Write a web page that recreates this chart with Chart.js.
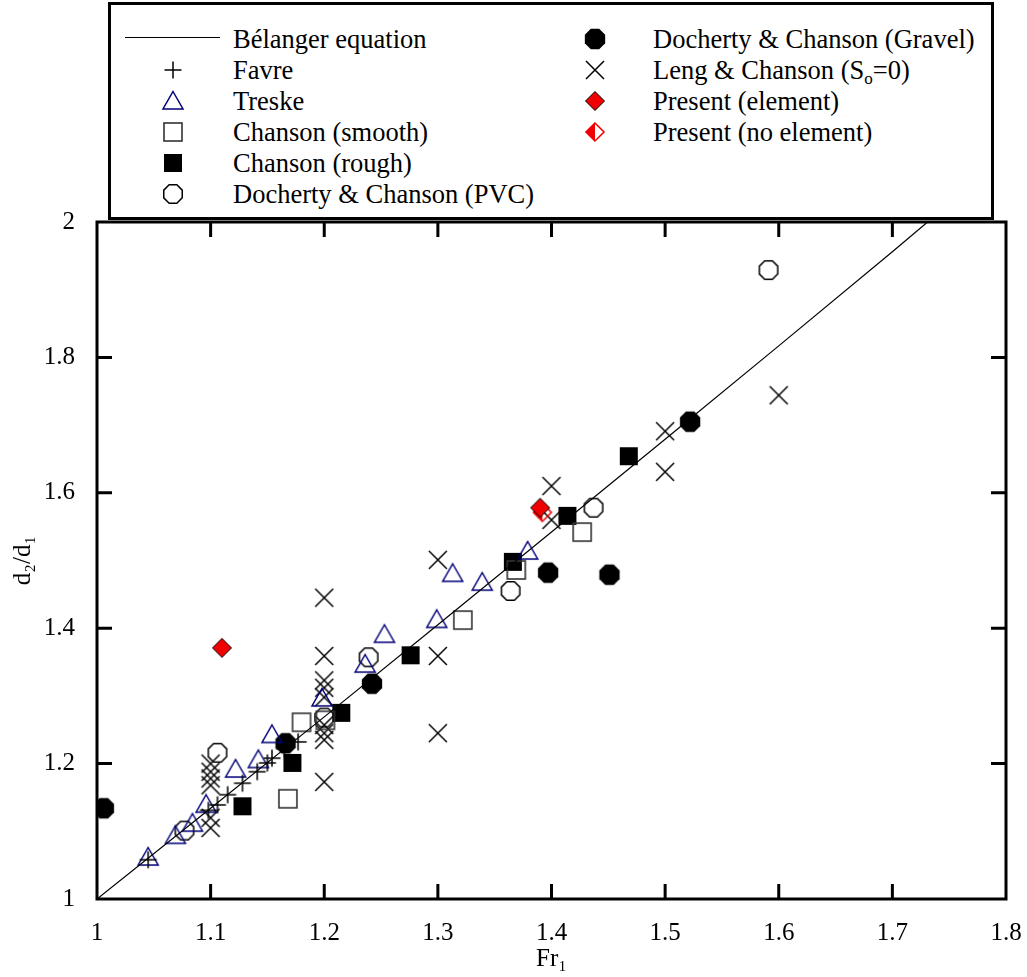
<!DOCTYPE html>
<html>
<head>
<meta charset="utf-8">
<script src="https://cdn.jsdelivr.net/npm/chart.js@4.4.1/dist/chart.umd.min.js"></script>
<style>
  body { margin:0; background:#fff; }
  #wrap { position:relative; width:1027px; height:977px; }
  #legend {
    position:absolute; left:108px; top:2px; width:886px; height:218px;
    box-sizing:border-box; border:3px solid #000; background:#fff;
    font-family:"Liberation Serif", "Times New Roman", serif; font-size:26.5px; color:#000;
  }
  #legend .txt { position:absolute; line-height:30px; white-space:nowrap; }
  #legend canvas { position:absolute; }
  #legend .ln { position:absolute; height:0; border-top:1px solid #000; }
  sub { font-size:17px; vertical-align:-5px; line-height:0; }
</style>
</head>
<body>
<div id="wrap">
  <canvas id="chart" width="1027" height="977"></canvas>
  <div id="legend"></div>
</div>
<script>
// Bélanger equation
const belangerFr = [1.0, 1.1, 1.2, 1.3, 1.4, 1.5, 1.6, 1.7, 1.731];
const belangerD  = [1.0, 1.134, 1.269, 1.405, 1.542, 1.679, 1.817, 1.956, 2.0];

const favreFr = [1.045, 1.098, 1.106, 1.115, 1.128, 1.141, 1.150, 1.154, 1.165, 1.177];
const favreD  = [1.058, 1.131, 1.139, 1.154, 1.171, 1.188, 1.201, 1.208, 1.222, 1.232];

const treskeFr = [1.045, 1.069, 1.084, 1.096, 1.122, 1.142, 1.154, 1.198, 1.236, 1.253, 1.299, 1.313, 1.339, 1.379];
const treskeD  = [1.062, 1.094, 1.112, 1.140, 1.192, 1.206, 1.243, 1.297, 1.347, 1.391, 1.413, 1.481, 1.468, 1.514];

const smoothFr = [1.168, 1.180, 1.201, 1.322, 1.369, 1.427];
const smoothD  = [1.148, 1.261, 1.264, 1.412, 1.486, 1.542];

const roughFr = [1.128, 1.172, 1.215, 1.276, 1.366, 1.414, 1.468];
const roughD  = [1.137, 1.201, 1.275, 1.360, 1.498, 1.566, 1.654];

const pvcFr = [1.077, 1.106, 1.200, 1.239, 1.364, 1.437, 1.591];
const pvcD  = [1.101, 1.216, 1.268, 1.357, 1.455, 1.578, 1.929];

const gravelFr = [1.006, 1.166, 1.242, 1.397, 1.451, 1.522];
const gravelD  = [1.134, 1.230, 1.318, 1.482, 1.479, 1.705];

const lengFr = [1.1, 1.1, 1.1, 1.1, 1.1, 1.1,
                1.2, 1.2, 1.2, 1.2, 1.2, 1.2, 1.2, 1.2, 1.2,
                1.3, 1.3, 1.3, 1.4, 1.4, 1.5, 1.5, 1.6];
const lengD  = [1.200, 1.188, 1.178, 1.168, 1.120, 1.105,
                1.445, 1.359, 1.323, 1.312, 1.298, 1.257, 1.245, 1.235, 1.173,
                1.501, 1.359, 1.245, 1.610, 1.560, 1.691, 1.631, 1.744];

const elemFr = [1.110, 1.390];
const elemD  = [1.371, 1.578];

const noElemFr = [1.392];
const noElemD  = [1.571];

const xTicks = [1, 1.1, 1.2, 1.3, 1.4, 1.5, 1.6, 1.7, 1.8];
const xTickLabels = ['1', '1.1', '1.2', '1.3', '1.4', '1.5', '1.6', '1.7', '1.8'];
const yTicks = [1, 1.2, 1.4, 1.6, 1.8, 2];
const yTickLabels = ['1', '1.2', '1.4', '1.6', '1.8', '2'];

const FONT = '"Liberation Serif", "Times New Roman", serif';
const NAVY = '#00007a';
const RED = '#f00000';

// marker images
function marker(kind){
  const S = 26, m = S/2;
  const c = document.createElement('canvas');
  c.width = S; c.height = S;
  const g = c.getContext('2d');
  g.lineWidth = 1.5;
  g.strokeStyle = '#000';
  g.fillStyle = '#000';
  const oct = r => {
    g.beginPath();
    for(let k=0;k<8;k++){
      const a = Math.PI/8 + k*Math.PI/4;
      g.lineTo(m + r*Math.cos(a), m + r*Math.sin(a));
    }
    g.closePath();
  };
  const dia = r => {
    g.beginPath();
    g.moveTo(m, m-r); g.lineTo(m+r, m); g.lineTo(m, m+r); g.lineTo(m-r, m); g.closePath();
  };
  if(kind==='plus'){
    g.beginPath(); g.moveTo(m-8.5, m); g.lineTo(m+8.5, m); g.moveTo(m, m-8.5); g.lineTo(m, m+8.5); g.stroke();
  } else if(kind==='x'){
    g.beginPath(); g.moveTo(m-9, m-9); g.lineTo(m+9, m+9); g.moveTo(m+9, m-9); g.lineTo(m-9, m+9); g.stroke();
  } else if(kind==='tri'){
    g.strokeStyle = NAVY;
    g.beginPath(); g.moveTo(m, m-9.5); g.lineTo(m+10, m+8); g.lineTo(m-10, m+8); g.closePath(); g.stroke();
  } else if(kind==='sqOpen'){
    g.strokeStyle = '#333'; g.lineWidth = 1.6;
    g.strokeRect(m-9, m-9, 18, 18);
  } else if(kind==='sqFill'){
    g.fillRect(m-9, m-9, 18, 18);
  } else if(kind==='octOpen'){
    oct(10); g.stroke();
  } else if(kind==='octFill'){
    oct(11); g.fill();
  } else if(kind==='dia'){
    dia(9.5); g.fillStyle = RED; g.fill(); g.lineWidth = 1; g.stroke();
  } else if(kind==='diaHalf'){
    g.fillStyle = RED;
    g.beginPath(); g.moveTo(m, m-9.5); g.lineTo(m-9.5, m); g.lineTo(m, m+9.5); g.closePath(); g.fill();
    dia(9); g.strokeStyle = RED; g.lineWidth = 1.5; g.stroke();
  }
  return c;
}

function pts(xs, ys){ return xs.map((x, i) => ({x, y: ys[i]})); }

function scatterSet(label, xs, ys, kind){
  return { label, data: pts(xs, ys), pointStyle: marker(kind), pointRadius: 10, clip: 0, showLine: false };
}

const datasets = [
  scatterSet('Present (element)', elemFr, elemD, 'dia'),
  scatterSet('Present (no element)', noElemFr, noElemD, 'diaHalf'),
  { label: 'Bélanger equation', data: pts(belangerFr, belangerD), showLine: true,
    borderColor: '#000', borderWidth: 1.2, pointRadius: 0, tension: 0, fill: false },
  scatterSet('Favre', favreFr, favreD, 'plus'),
  scatterSet('Treske', treskeFr, treskeD, 'tri'),
  scatterSet('Chanson (smooth)', smoothFr, smoothD, 'sqOpen'),
  scatterSet('Chanson (rough)', roughFr, roughD, 'sqFill'),
  scatterSet('Docherty & Chanson (PVC)', pvcFr, pvcD, 'octOpen'),
  scatterSet('Docherty & Chanson (Gravel)', gravelFr, gravelD, 'octFill'),
  scatterSet('Leng & Chanson (So=0)', lengFr, lengD, 'x')
];

// frame with inward ticks on all four sides
const framePlugin = {
  id: 'frame',
  afterDatasetsDraw(chart){
    const {ctx, chartArea: a, scales} = chart;
    ctx.save();
    ctx.strokeStyle = '#000';
    ctx.lineWidth = 3;
    ctx.strokeRect(a.left, a.top, a.right - a.left, a.bottom - a.top);
    const L = 15;
    ctx.beginPath();
    xTicks.slice(1, -1).forEach(v => {
      const px = scales.x.getPixelForValue(v);
      ctx.moveTo(px, a.bottom); ctx.lineTo(px, a.bottom - L);
      ctx.moveTo(px, a.top); ctx.lineTo(px, a.top + L);
    });
    yTicks.slice(1, -1).forEach(v => {
      const py = scales.y.getPixelForValue(v);
      ctx.moveTo(a.left, py); ctx.lineTo(a.left + L, py);
      ctx.moveTo(a.right, py); ctx.lineTo(a.right - L, py);
    });
    ctx.stroke();
    ctx.restore();
  }
};

new Chart(document.getElementById('chart'), {
  type: 'scatter',
  data: { datasets },
  options: {
    responsive: false,
    animation: false,
    layout: { padding: { top: 222, right: 21, left: 0, bottom: 0 } },
    plugins: { legend: { display: false }, tooltip: { enabled: false } },
    scales: {
      x: {
        type: 'linear', min: 1, max: 1.8,
        afterBuildTicks: s => { s.ticks = xTicks.map(v => ({value: v})); },
        afterFit: s => { s.height = 78; s.paddingLeft = 0; s.paddingRight = 0; },
        grid: { display: false }, border: { display: false },
        ticks: { color: '#000', font: { family: FONT, size: 25 }, padding: 11, maxRotation: 0,
                 callback: (v, i) => xTickLabels[i] },
        title: { display: true, text: 'Fr₁', color: '#000', font: { family: FONT, size: 25 }, padding: { top: 0, bottom: 3 } }
      },
      y: {
        type: 'linear', min: 1, max: 2,
        afterBuildTicks: s => { s.ticks = yTicks.map(v => ({value: v})); },
        afterFit: s => { s.width = 97; s.paddingTop = 0; s.paddingBottom = 0; },
        grid: { display: false }, border: { display: false },
        ticks: { color: '#000', font: { family: FONT, size: 25 }, padding: 14,
                 callback: (v, i) => yTickLabels[i] },
        title: { display: true, text: 'd₂/d₁', color: '#000', font: { family: FONT, size: 25 }, padding: { top: 8, bottom: 0 } }
      }
    }
  },
  plugins: [framePlugin]
});

// legend (two columns)
const legendRows = [
  { col: 0, row: 0, kind: 'line', text: 'Bélanger equation' },
  { col: 0, row: 1, kind: 'plus', text: 'Favre' },
  { col: 0, row: 2, kind: 'tri', text: 'Treske' },
  { col: 0, row: 3, kind: 'sqOpen', text: 'Chanson (smooth)' },
  { col: 0, row: 4, kind: 'sqFill', text: 'Chanson (rough)' },
  { col: 0, row: 5, kind: 'octOpen', text: 'Docherty &amp; Chanson (PVC)' },
  { col: 1, row: 0, kind: 'octFill', text: 'Docherty &amp; Chanson (Gravel)' },
  { col: 1, row: 1, kind: 'x', text: 'Leng &amp; Chanson (S<sub>o</sub>=0)' },
  { col: 1, row: 2, kind: 'dia', text: 'Present (element)' },
  { col: 1, row: 3, kind: 'diaHalf', text: 'Present (no element)' }
];
const leg = document.getElementById('legend');
const iconX = [62, 484], textX = [122, 542];
legendRows.forEach(r => {
  const cy = 33.5 + r.row * 31;
  if(r.kind === 'line'){
    const ln = document.createElement('div');
    ln.className = 'ln';
    ln.style.left = '14px'; ln.style.width = '95px'; ln.style.top = (cy - 2) + 'px';
    leg.appendChild(ln);
  } else {
    const c = marker(r.kind);
    c.style.left = (iconX[r.col] - 13) + 'px';
    c.style.top = (cy - 13) + 'px';
    leg.appendChild(c);
  }
  const t = document.createElement('div');
  t.className = 'txt';
  t.innerHTML = r.text;
  t.style.left = textX[r.col] + 'px';
  t.style.top = (cy - 15) + 'px';
  leg.appendChild(t);
});
</script>
</body>
</html>
